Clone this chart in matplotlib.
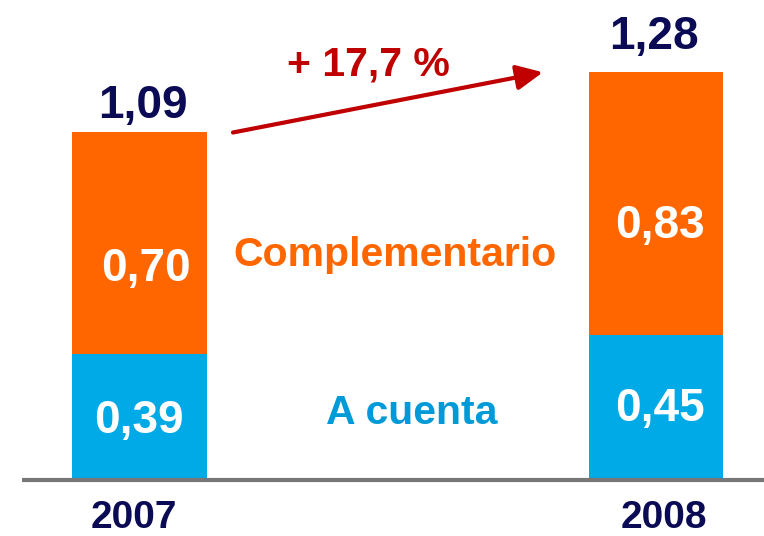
import matplotlib
matplotlib.use('Agg')
import matplotlib.pyplot as plt

# data
years = ['2007', '2008']
a_cuenta = [0.39, 0.45]
complementario = [0.70, 0.83]
totals = [1.09, 1.28]
growth_label = '+ 17,7 %'

fmt = lambda v: f"{v:.2f}".replace('.', ',')

color_orange = '#FF6600'
color_blue = '#00AAE6'
color_navy = '#0A0A55'
color_red = '#C00000'

plt.rcParams['font.family'] = ['Liberation Sans', 'DejaVu Sans']
plt.rcParams['font.weight'] = 'bold'

fig = plt.figure(figsize=(7.64, 5.36), dpi=100)
ax = fig.add_axes([0, 0, 1, 1])
ax.set_xlim(-0.270, 1.209)
ax.set_ylim(-0.183, 1.508)
ax.axis('off')

x = [0, 1]
bar_w = 0.261
ax.bar(x, a_cuenta, width=bar_w, color=color_blue, edgecolor='none')
ax.bar(x, complementario, width=bar_w, bottom=a_cuenta, color=color_orange, edgecolor='none')

# baseline
ax.plot([-0.228, 1.209], [-0.006, -0.006], color='#777777', lw=3, solid_capstyle='butt')

# segment value labels (small manual nudges as in the original slide)
blue_shift = [-0.015, -0.006]
orange_shift = [-0.08, -0.069]
blue_x = [-0.001, 0.008]
orange_x = [0.012, 0.008]
for i in range(2):
    ax.text(x[i] + blue_x[i], a_cuenta[i] / 2 + blue_shift[i], fmt(a_cuenta[i]),
            ha='center', va='center', color='white', fontsize=33, fontweight='bold')
    ax.text(x[i] + orange_x[i], a_cuenta[i] + complementario[i] / 2 + orange_shift[i],
            fmt(complementario[i]), ha='center', va='center', color='white',
            fontsize=33, fontweight='bold')

# totals
tot_offset = [0.045, 0.072]
tot_x = [0.007, -0.005]
for i in range(2):
    ax.text(x[i] + tot_x[i], totals[i] + tot_offset[i], fmt(totals[i]),
            ha='center', va='baseline', color=color_navy, fontsize=33, fontweight='bold')

# years
year_x = [-0.011, 1.015]
for i in range(2):
    ax.text(year_x[i], -0.126, years[i], ha='center', va='center',
            color=color_navy, fontsize=28, fontweight='bold')

# series labels in the middle
ax.text(0.494, 0.705, 'Complementario', ha='center', va='center',
        color=color_orange, fontsize=29.5, fontweight='bold')
ax.text(0.527, 0.205, 'A cuenta', ha='center', va='center',
        color='#009AD8', fontsize=29.5, fontweight='bold')

# growth arrow
ax.annotate('', xy=(0.781, totals[1]), xytext=(0.181, totals[0]),
            arrowprops=dict(arrowstyle='-|>,head_length=0.8,head_width=0.38',
                            mutation_scale=20, color=color_red, lw=3,
                            shrinkA=0, shrinkB=0))
ax.text(0.444, 1.306, growth_label, ha='center', va='center',
        color=color_red, fontsize=29.5, fontweight='bold')

fig.savefig('out.png', dpi=100)
plt.close(fig)
